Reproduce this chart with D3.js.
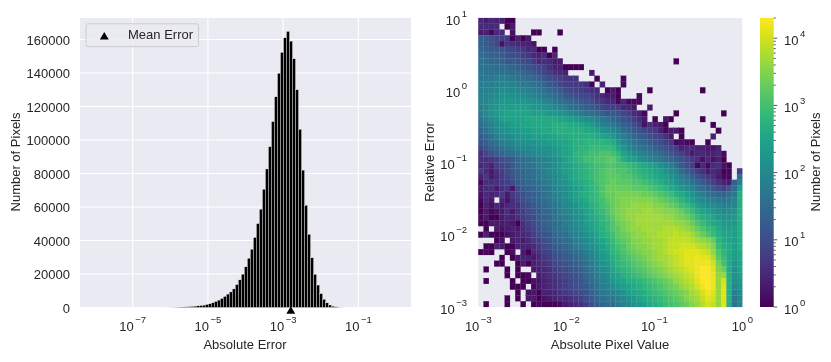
<!DOCTYPE html>
<html>
<head>
<meta charset="utf-8">
<script src="https://cdnjs.cloudflare.com/ajax/libs/d3/7.8.5/d3.min.js"></script>
<style>
    body { margin: 0; background: #fff; }
    svg { display: block; filter: blur(0.45px); }
    text { font-family: "Liberation Sans", Arial, sans-serif; fill: #262626; }
</style>
</head>
<body>
<svg id="drawing_region" width="831" height="362"></svg>
<script>
// histogram: 100 log bins, about 1e-8 to 1e0
const errorCounts = [
    0,0,0,0,0,0,0,0,0,0,0,0,0,0,0,0,0,0,0,0,0,0,
    5,15,30,60,100,150,220,300,400,500,650,800,1000,1200,1400,1800,2200,2800,
    3600,4400,5400,6600,8000,9300,11100,13700,16500,19900,24300,29400,34800,41800,50100,58700,
    70600,82700,96000,111000,125800,139800,152300,161000,164800,159000,148500,130000,106400,82000,
    61000,43700,29700,19800,13400,8300,4900,2800,1500,800,400,150,50,15,5,0,
    0,0,0,0,0,0,0,0,0,0,0,0,0,0
];
const meanError = 0.0016;
const yTicksLeft = [0, 20000, 40000, 60000, 80000, 100000, 120000, 140000, 160000];
const xTicksLeft = [-7, -5, -3, -1];
const xTicksRight = [-3, -2, -1, 0];
const yTicksRight = [-3, -2, -1, 0, 1];
const colorTicks = [0, 1, 2, 3, 4];

// heatmap: log10(count) * 10 per cell, -1 = no pixels. First row is the top (relative error ~10).
const logCounts = [
    [5,3,5,4,4,0,0],
    [5,5,5,5,-1,0,3],
    [3,4,1,5,5,-1,2,-1,-1,-1,0,0,-1,-1,-1,0],
    [13,12,11,9,8,7,0,4,0,3],
    [13,12,11,9,2,7,6,5,4,4,2],
    [14,13,12,12,11,10,9,8,7,5,5,0,0,-1,0],
    [15,14,13,13,12,11,10,10,8,7,5,4,6,0,5],
    [16,15,14,14,13,12,12,11,10,9,7,5,6,5,3,3,-1,-1,-1,-1,-1,-1,-1,-1,-1,-1,-1,-1,-1,-1,-1,-1,-1,-1,-1,-1,-1,0],
    [16,16,16,15,15,15,14,13,12,11,10,9,8,6,4,4,0,0,0,0],
    [17,16,16,16,16,16,15,15,14,13,12,10,9,8,6,5,4,-1,-1,-1,-1,3],
    [17,17,17,18,18,18,17,16,16,15,14,13,11,10,9,8,7,6,6,-1,-1,-1,0,-1,-1,-1,-1,1],
    [18,18,18,19,19,20,19,18,17,17,16,15,14,12,11,9,8,8,7,7,6,0,-1,4,-1,-1,-1,1],
    [18,19,19,20,21,21,20,20,19,18,18,17,16,14,13,12,10,9,8,8,7,6,5,-1,0,3,0,-1,-1,-1,-1,-1,0,-1,-1,-1,-1,-1,-1,-1,-1,-1,0],
    [19,19,20,21,22,22,22,21,21,20,19,18,17,16,15,14,12,11,10,9,9,8,6,5,3,3,0,-1,-1,-1,1],
    [19,20,21,22,23,23,23,23,23,22,22,21,20,19,17,16,15,14,13,12,11,10,8,7,5,5,1,5,1,1,1],
    [18,20,22,23,24,24,24,24,24,24,23,23,22,21,20,19,18,16,15,14,13,12,11,9,8,8,8,5,5,3,-1,-1,3],
    [18,20,22,23,24,25,25,25,25,25,24,24,24,23,23,22,21,20,18,17,16,15,14,13,11,12,11,9,8,5,4,1,-1,-1,-1,-1,-1,0,-1,-1,-1,-1,-1,-1,-1,-1,0],
    [17,19,21,22,24,25,25,25,25,26,26,26,26,26,26,25,25,24,23,22,21,20,19,17,16,14,13,11,10,8,6,3,-1,0,-1,3,0,-1,-1,-1,-1,-1,0],
    [15,17,19,21,22,23,24,24,25,25,26,26,26,26,27,27,27,26,26,25,24,23,21,19,18,17,15,13,12,10,8,2,6,4,3,0,-1,-1,-1,-1,-1,-1,-1,-1,0],
    [14,16,18,20,21,22,23,23,24,24,25,25,26,26,27,27,27,27,27,27,26,25,24,22,21,20,18,15,14,12,11,9,8,7,4,1,3,3,0,-1,-1,-1,-1,-1,-1,0],
    [12,14,16,18,20,20,21,22,23,23,24,24,24,25,25,26,26,27,27,27,27,27,26,25,24,23,20,18,16,14,13,12,10,9,8,6,3,-1,0,-1,-1,-1,-1,-1,4],
    [11,13,15,16,18,19,20,21,21,22,22,23,23,24,24,25,25,26,27,27,28,28,28,28,27,26,23,20,18,16,15,14,12,11,10,8,7,1,2,1,0,-1,-1,0],
    [9,11,13,14,16,17,18,19,20,20,21,21,22,22,23,24,25,26,27,28,28,29,29,29,29,28,25,23,20,18,17,16,15,13,12,11,9,8,4,5,5,4,4,3,2,4],
    [6,9,11,13,14,15,16,17,18,19,20,21,21,22,23,24,25,26,28,28,29,30,30,31,31,30,28,25,23,21,20,19,17,16,15,13,12,10,8,6,3,5,5,4,4,5,1],
    [6,6,7,8,10,11,12,14,15,16,17,18,19,20,21,22,24,26,27,28,30,30,31,31,32,32,30,27,25,24,22,21,19,18,17,15,14,12,11,9,7,6,2,5,2,4,0],
    [5,6,4,8,9,10,12,14,15,16,17,18,19,20,21,23,24,25,26,27,28,29,30,30,31,31,30,30,29,28,27,26,25,24,22,20,18,15,12,10,8,1,5,1,5,6,2,0,-1,-1],
    [7,5,3,6,8,10,12,13,14,15,16,17,18,20,21,22,24,25,26,27,28,29,30,31,32,32,31,31,30,29,28,27,26,25,24,22,20,18,15,12,10,8,6,3,5,4,0,1,-1,8],
    [4,7,3,5,7,9,11,13,14,15,16,17,18,19,20,22,23,25,26,27,28,29,30,31,32,32,32,31,31,30,29,28,27,26,25,24,22,20,18,16,13,11,9,7,6,3,1,1,-1,16],
    [1,6,6,6,7,8,10,12,13,14,15,16,17,18,20,21,22,24,25,26,27,28,30,31,32,33,32,32,32,31,31,30,29,28,27,25,24,22,20,18,16,14,12,10,8,6,4,3,13,19],
    [3,5,6,3,6,7,3,10,12,13,14,15,16,17,19,20,21,23,24,25,27,28,29,31,33,33,33,33,33,32,32,32,31,30,29,28,26,25,23,21,19,17,15,13,12,10,8,11,15,24],
    [2,5,4,5,7,3,7,9,10,12,13,14,16,17,18,20,21,23,24,26,27,28,29,31,33,33,34,34,34,34,34,33,33,32,31,30,29,27,26,24,22,20,18,16,15,14,13,15,17,27],
    [1,5,3,-1,5,2,6,8,10,12,13,14,15,17,18,19,21,22,24,25,26,28,29,30,32,33,34,35,35,35,35,35,35,34,33,32,31,30,28,26,24,22,20,19,18,17,16,17,19,27],
    [0,4,2,5,3,5,6,6,9,10,12,13,14,16,17,18,20,21,22,24,25,27,28,30,31,33,34,35,35,36,36,36,36,35,35,34,33,32,30,29,27,25,23,21,21,20,18,19,20,27],
    [0,3,1,2,3,6,3,6,8,10,11,12,14,15,16,18,19,20,22,23,25,26,28,29,31,33,34,35,36,36,36,37,37,36,36,35,35,34,33,31,29,27,25,24,23,22,20,21,22,27],
    [1,3,0,0,3,5,4,6,7,9,10,12,13,14,16,17,18,20,21,22,24,26,27,28,30,32,34,35,36,36,37,37,37,37,37,36,36,35,34,33,31,29,27,26,25,23,22,22,23,27],
    [0,0,3,3,3,4,3,0,6,8,10,11,13,14,15,16,18,19,21,22,24,25,26,28,29,31,33,34,35,36,37,37,37,37,37,37,37,36,36,35,33,31,29,27,26,25,23,23,23,27],
    [-1,0,-1,3,2,3,4,3,5,7,9,11,12,13,15,16,17,19,20,21,23,24,26,27,29,31,32,34,35,36,36,37,37,37,37,38,38,38,37,36,35,33,31,29,28,26,24,24,24,27],
    [0,4,0,0,0,2,3,4,5,6,8,10,11,12,14,15,16,18,19,20,22,23,25,27,28,30,32,33,34,35,36,36,37,37,38,38,38,39,38,38,37,35,33,31,29,27,25,25,24,27],
    [-1,-1,-1,0,2,-1,3,4,3,5,7,8,10,11,13,14,15,16,18,19,20,22,24,25,27,29,31,32,33,35,35,36,36,37,37,38,39,39,39,39,38,37,36,35,33,28,26,25,24,27],
    [-1,0,0,4,3,0,0,4,4,4,5,7,9,10,12,13,14,15,17,18,20,21,23,24,26,28,30,31,33,34,35,35,36,37,37,38,39,39,40,40,40,39,38,37,35,29,27,26,24,27],
    [0,1,0,-1,-1,0,2,-1,3,0,5,6,8,9,11,12,13,14,15,16,18,20,22,24,25,28,29,31,32,33,34,35,35,36,37,38,39,40,40,41,41,41,40,39,36,31,28,26,24,26],
    [-1,-1,-1,-1,0,-1,0,3,4,4,3,5,7,8,10,11,12,13,14,15,17,19,21,23,24,27,28,30,31,32,33,34,35,36,37,37,38,39,40,41,41,42,41,41,38,32,29,26,24,26],
    [-1,-1,-1,0,0,-1,-1,0,3,0,4,5,6,7,9,10,11,12,13,14,16,18,20,22,23,26,28,29,30,31,32,33,34,35,36,37,38,39,40,41,41,42,42,42,40,34,30,26,23,25],
    [-1,0,-1,-1,-1,0,-1,0,-1,-1,3,4,5,6,8,9,10,11,12,13,15,17,19,21,22,25,27,28,29,30,31,32,33,34,35,36,37,38,39,40,41,42,43,43,41,35,33,26,22,25],
    [-1,-1,-1,-1,-1,0,-1,0,0,1,-1,3,5,6,7,8,9,10,11,12,14,16,18,20,21,24,25,27,28,29,30,31,32,33,34,35,36,37,38,39,40,42,43,43,42,36,36,27,22,24],
    [-1,0,-1,-1,-1,-1,0,-1,0,0,2,2,4,5,6,7,8,9,10,11,13,15,17,19,20,23,24,25,27,27,28,29,30,31,32,33,34,36,37,38,39,41,43,43,42,36,40,27,21,23],
    [-1,-1,-1,-1,-1,-1,0,0,0,-1,1,3,4,5,6,7,8,9,10,11,12,14,16,18,19,21,23,24,25,26,27,28,29,30,31,32,33,34,36,37,38,40,42,43,42,36,41,27,20,22],
    [-1,-1,-1,-1,-1,-1,-1,0,-1,2,3,0,4,4,5,6,7,8,9,10,11,13,15,17,18,19,20,22,24,25,26,27,28,29,30,31,32,33,34,35,37,38,40,42,41,36,41,27,18,21],
    [-1,-1,-1,-1,-1,0,-1,0,-1,3,3,0,2,3,4,5,5,6,7,8,10,12,14,16,17,17,19,20,22,23,25,26,27,28,29,30,31,32,33,35,36,37,39,41,40,36,41,27,17,20],
    [-1,0,-1,-1,-1,0,-1,-1,0,-1,0,1,0,0,0,1,3,4,5,6,8,10,12,14,15,15,17,19,20,22,23,24,26,27,28,29,30,31,32,33,35,36,38,40,39,36,41,27,16,20]
];

const svg = d3.select('#drawing_region');
const bg = '#EAEAF2';

// superscript tick labels like 10^-3, the minus is a real one
function powerLabel(sel, exponent, anchor) {
    sel.attr('font-size', 13).attr('text-anchor', anchor);
    sel.append('tspan').text('10');
    sel.append('tspan')
        .attr('font-size', 9.5)
        .attr('dx', 1.5)
        .attr('dy', -8)
        .text(String(exponent).replace('-', '\u2212'));
}

function axisTitle(x, y, label, rotate) {
    svg.append('text')
        .attr('transform', `translate(${x}, ${y})` + (rotate ? ' rotate(-90)' : ''))
        .attr('text-anchor', 'middle')
        .attr('font-size', 13)
        .text(label);
}

function triangle(g, x, y) {
    g.append('path')
        .attr('d', d3.symbol(d3.symbolTriangle, 34))
        .attr('transform', `translate(${x}, ${y})`)
        .attr('fill', '#000');
}

/* ---------- left: histogram ---------- */
const x1 = d3.scaleLog().domain([Math.pow(10, -8.4), Math.pow(10, 0.4)]).range([80, 411]);
const y1 = d3.scaleLinear().domain([0, 172800]).range([307.5, 18]);

const left = svg.append('g');
left.append('rect')
    .attr('x', x1.range()[0]).attr('y', y1.range()[1])
    .attr('width', x1.range()[1] - x1.range()[0])
    .attr('height', y1.range()[0] - y1.range()[1])
    .attr('fill', bg);

const yAxis1 = d3.axisLeft(y1).tickValues(yTicksLeft).tickSize(0).tickPadding(10).tickFormat(d3.format('d'));
left.append('g').attr('transform', 'translate(80, 0)').call(yAxis1)
    .call(g => g.select('.domain').remove())
    .call(g => g.selectAll('text').attr('font-size', 13).attr('font-family', null).attr('dy', '0.36em'));

left.append('g').selectAll('line.h').data(yTicksLeft).join('line')
    .attr('x1', x1.range()[0]).attr('x2', x1.range()[1])
    .attr('y1', d => y1(d)).attr('y2', d => y1(d))
    .attr('stroke', '#fff').attr('stroke-width', 1.1);
left.append('g').selectAll('line.v').data(xTicksLeft).join('line')
    .attr('x1', d => x1(Math.pow(10, d))).attr('x2', d => x1(Math.pow(10, d)))
    .attr('y1', y1.range()[0]).attr('y2', y1.range()[1])
    .attr('stroke', '#fff').attr('stroke-width', 1.1);

const binEdge = i => Math.pow(10, -8.03 + 8 * i / errorCounts.length);
left.append('g').selectAll('rect').data(errorCounts).join('rect')
    .attr('x', (d, i) => x1(binEdge(i)))
    .attr('width', (d, i) => x1(binEdge(i + 1)) - x1(binEdge(i)))
    .attr('y', d => y1(d))
    .attr('height', d => y1(0) - y1(d))
    .attr('fill', '#000')
    .attr('stroke', '#fff')
    .attr('stroke-width', 0.35);

triangle(left, x1(meanError), y1(0) + 3.8);

left.selectAll('text.xtick').data(xTicksLeft).join('text')
    .attr('class', 'xtick')
    .attr('x', d => x1(Math.pow(10, d)))
    .attr('y', 331)
    .each(function (d) { powerLabel(d3.select(this), d, 'middle'); });

axisTitle(245, 349, 'Absolute Error');
axisTitle(19.5, 162, 'Number of Pixels', true);

// legend
left.append('rect')
    .attr('x', 86).attr('y', 23.8).attr('width', 112.5).attr('height', 22.8).attr('rx', 2)
    .attr('fill', bg).attr('fill-opacity', 0.8)
    .attr('stroke', '#cccccc').attr('stroke-width', 1);
triangle(left, 104.3, 37);
left.append('text').attr('x', 128).attr('y', 38.5).attr('font-size', 13).text('Mean Error');

/* ---------- right: 2d histogram ---------- */
const x2 = d3.scaleLog().domain([1e-3, 1]).range([478.3, 742.3]);
const y2 = d3.scaleLog().domain([1e-3, 10]).range([307, 18]);
const color = d3.scaleSequentialLog(d3.interpolateViridis).domain([1, 20000]);

const right = svg.append('g');
right.append('rect')
    .attr('x', x2.range()[0]).attr('y', y2.range()[1])
    .attr('width', x2.range()[1] - x2.range()[0])
    .attr('height', y2.range()[0] - y2.range()[1])
    .attr('fill', bg);

const cellX = i => x2(Math.pow(10, -3 + 3 * i / 50));
const cellY = j => y2(Math.pow(10, 1 - 4 * j / 50));

logCounts.forEach((row, j) => {
    right.append('g').selectAll('rect')
        .data(row.map((v, i) => ({ v, i })).filter(d => d.v >= 0))
        .join('rect')
        .attr('x', d => cellX(d.i))
        .attr('y', cellY(j))
        .attr('width', d => cellX(d.i + 1) - cellX(d.i))
        .attr('height', cellY(j + 1) - cellY(j))
        .attr('fill', d => color(Math.pow(10, d.v / 10)))
        .attr('stroke', d => color(Math.pow(10, d.v / 10)))
        .attr('stroke-width', 0.2);
});

right.selectAll('text.xtick').data(xTicksRight).join('text')
    .attr('class', 'xtick')
    .attr('x', d => x2(Math.pow(10, d)))
    .attr('y', 331)
    .each(function (d) { powerLabel(d3.select(this), d, 'middle'); });
right.selectAll('text.ytick').data(yTicksRight).join('text')
    .attr('class', 'ytick')
    .attr('x', 467)
    .attr('y', d => y2(Math.pow(10, d)) + 6.5)
    .each(function (d) { powerLabel(d3.select(this), d, 'end'); });

axisTitle(610, 349, 'Absolute Pixel Value');
axisTitle(434, 162, 'Relative Error', true);

/* ---------- colorbar ---------- */
const cScale = d3.scaleLog().domain([1, 20000]).range([307, 18]);
const cbarX = 760, cbarW = 13.7;

const grad = svg.append('defs').append('linearGradient')
    .attr('id', 'viridis').attr('x1', 0).attr('x2', 0).attr('y1', 1).attr('y2', 0);
d3.range(0, 1.001, 0.05).forEach(t => {
    grad.append('stop').attr('offset', t).attr('stop-color', d3.interpolateViridis(t));
});
svg.append('rect')
    .attr('x', cbarX).attr('y', 18).attr('width', cbarW).attr('height', 289)
    .attr('fill', 'url(#viridis)');

const minorTicks = cScale.ticks().filter(d => d >= 1 && d <= 20000);
svg.append('g').selectAll('line').data(minorTicks).join('line')
    .attr('x1', cbarX + cbarW)
    .attr('x2', d => cbarX + cbarW + (Number.isInteger(Math.log10(d)) ? 3.5 : 2))
    .attr('y1', d => cScale(d)).attr('y2', d => cScale(d))
    .attr('stroke', '#262626').attr('stroke-width', 0.8);

svg.selectAll('text.ctick').data(colorTicks).join('text')
    .attr('class', 'ctick')
    .attr('x', 784)
    .attr('y', d => cScale(Math.pow(10, d)) + 6.5)
    .each(function (d) { powerLabel(d3.select(this), d, 'start'); });

axisTitle(820, 162, 'Number of Pixels', true);
</script>
</body>
</html>
